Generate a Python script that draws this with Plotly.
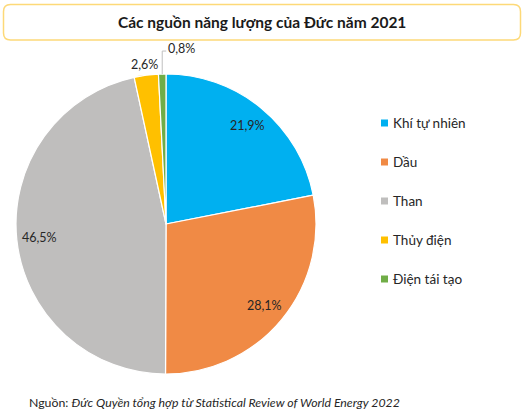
import math
import plotly.graph_objects as go

# data
sources = ['Khí tự nhiên', 'Dầu', 'Than', 'Thủy điện', 'Điện tái tạo']
shares = [21.9, 28.1, 46.5, 2.6, 0.8]
colors = ['#00B0F0', '#F08A45', '#BFBEBD', '#FFC000', '#70AD47']

W, H = 525, 420
# pie placement in pixels
cx, cy, R = 166, 224, 150
FONT = 'Lato, "Open Sans", sans-serif'
TXT = '#262626'

fig = go.Figure()
fig.add_trace(go.Pie(
    labels=sources, values=shares, sort=False, direction='clockwise',
    rotation=0, marker=dict(colors=colors, line=dict(color='white', width=1.2)),
    textinfo='none', hoverinfo='label+value', showlegend=False,
    domain=dict(x=[(cx - R) / W, (cx + R) / W], y=[1 - (cy + R) / H, 1 - (cy - R) / H]),
))

def px2paper(x, y):
    return x / W, 1 - y / H

def note(x, y, text, size, xanchor='center', color=TXT):
    px_, py_ = px2paper(x, y)
    return dict(x=px_, y=py_, xref='paper', yref='paper', text=text, showarrow=False,
                xanchor=xanchor, yanchor='middle', font=dict(size=size, color=color, family=FONT))

annotations = []
shapes = []

# slice labels, placed at the mid angle of each slice
total = sum(shares)
start = 0.0
for i, v in enumerate(shares):
    mid = (start + v / 2) / total * 2 * math.pi
    start += v
    label = f'{v:.1f}%'.replace('.', ',')
    if v > 10:
        r = 0.85 * R
        annotations.append(note(cx + r * math.sin(mid), cy - r * math.cos(mid), label, 12.5))
    elif v > 2:
        r = 1.07 * R
        annotations.append(note(cx + r * math.sin(mid), cy - r * math.cos(mid), label, 12.5))
    else:
        # small slice: leader line up and to the right
        ex, ey = cx + R * math.sin(mid), cy - R * math.cos(mid)
        ty = ey - 23
        x0, y0 = px2paper(ex, ey)
        x1, y1 = px2paper(ex, ty)
        x2, _ = px2paper(ex + 4, ty)
        shapes.append(dict(type='path', xref='paper', yref='paper',
                           path=f'M {x0} {y0} L {x1} {y1} L {x2} {y1}',
                           line=dict(color='#BFBFBF', width=1)))
        annotations.append(note(ex + 4, ty - 3, label, 12.5, xanchor='left'))

# legend drawn by hand to get the wide row spacing
for i, (name, c) in enumerate(zip(sources, colors)):
    yy = 123 + i * 39
    sx0, sy0 = px2paper(381, yy - 3.5)
    sx1, sy1 = px2paper(388, yy + 3.5)
    shapes.append(dict(type='rect', xref='paper', yref='paper', x0=sx0, y0=sy1, x1=sx1, y1=sy0,
                       fillcolor=c, line=dict(width=0)))
    annotations.append(note(391, yy, name, 13.5, xanchor='left'))

# title box
bx0, by0 = px2paper(3.5, 4.5)
bx1, by1 = px2paper(520.5, 40)
rx, ry = 7 / W, 7 / H
shapes.append(dict(type='path', xref='paper', yref='paper',
                   path=(f'M {bx0 + rx} {by0} L {bx1 - rx} {by0} Q {bx1} {by0} {bx1} {by0 - ry} '
                         f'L {bx1} {by1 + ry} Q {bx1} {by1} {bx1 - rx} {by1} '
                         f'L {bx0 + rx} {by1} Q {bx0} {by1} {bx0} {by1 + ry} '
                         f'L {bx0} {by0 - ry} Q {bx0} {by0} {bx0 + rx} {by0} Z'),
                   line=dict(color='#FDD978', width=1.5), fillcolor='white', layer='below'))
annotations.append(note(262, 22, '<b>Các nguồn năng lượng của Đức năm 2021</b>', 15.5,
                        color='#1A1A1A'))

# source note
annotations.append(note(27, 402, 'Nguồn: <i>Đức Quyền tổng hợp từ Statistical Review of World Energy 2022</i>',
                        12.3, xanchor='left'))

fig.update_layout(
    width=W, height=H, margin=dict(l=0, r=0, t=0, b=0),
    paper_bgcolor='white', plot_bgcolor='white',
    annotations=annotations, shapes=shapes,
)

# page body margin would shift the chart by 8px
fig.write_html("out.html", config={'displayModeBar': False},
               post_script="document.body.style.margin='0';")
